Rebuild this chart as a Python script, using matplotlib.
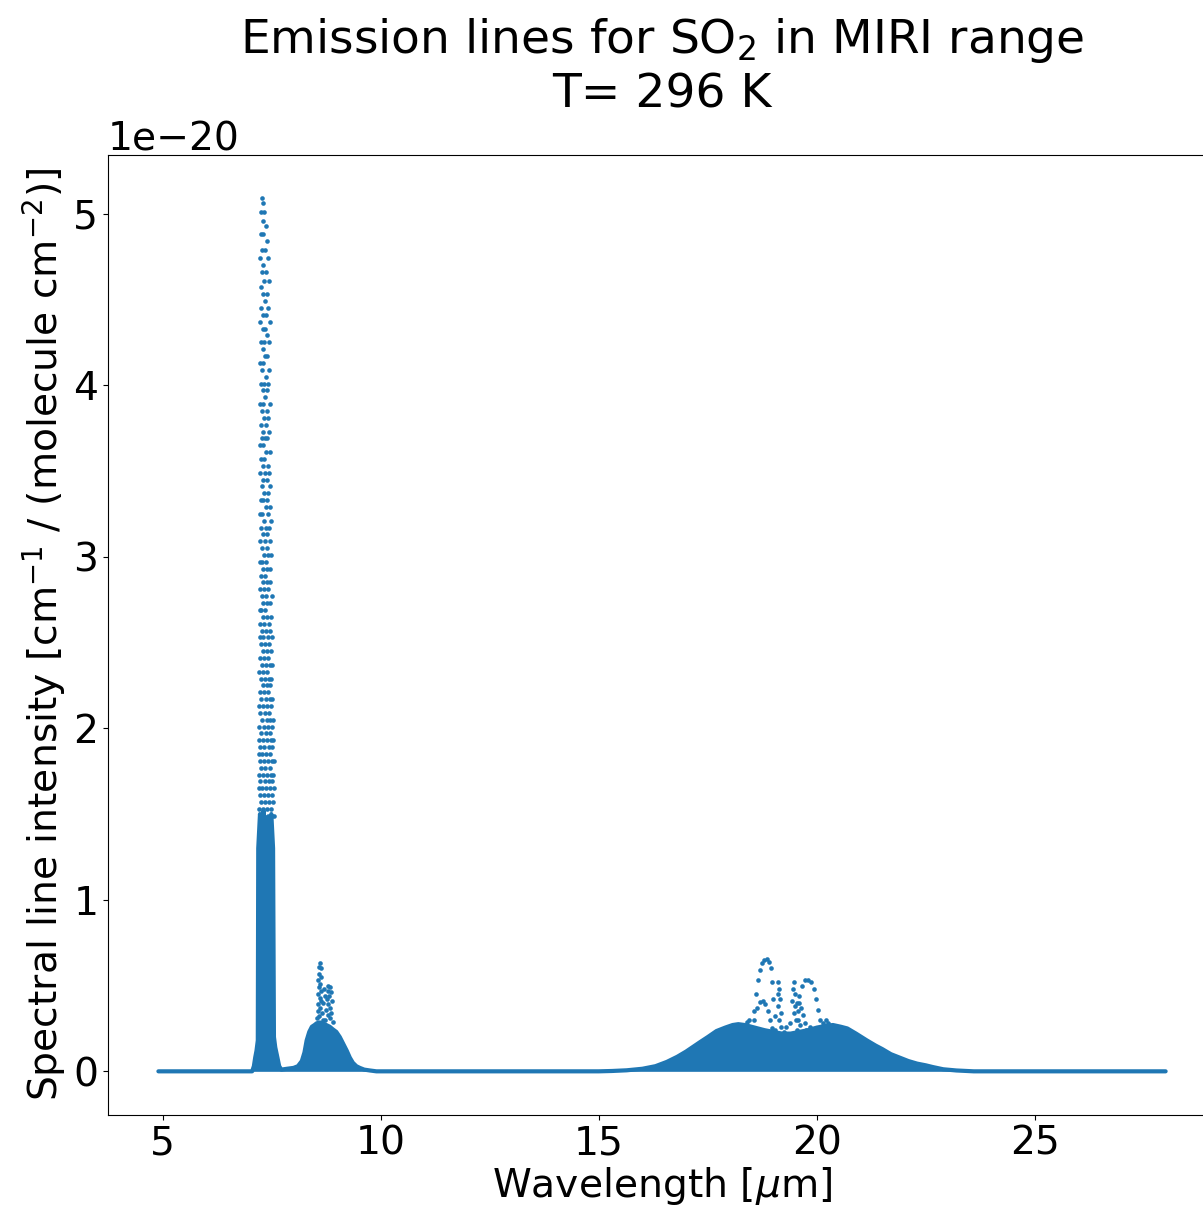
import matplotlib
matplotlib.use("Agg")
import matplotlib.pyplot as plt
import numpy as np

# dense part of the line list: upper edge of the packed lines (1e-20 units)
env_wl = [4.9, 7.05, 7.09, 7.12, 7.15, 7.18, 7.19, 7.23, 7.27, 7.31, 7.35, 7.39, 7.44, 7.49,
          7.53, 7.55, 7.58, 7.63, 7.67, 7.72, 7.85, 8.0, 8.1, 8.19, 8.25, 8.30, 8.36, 8.42,
          8.48, 8.53, 8.60, 8.67, 8.75, 8.83, 8.90, 8.98, 9.06, 9.14, 9.22, 9.29, 9.36, 9.44,
          9.52, 9.62, 9.75, 9.9, 15.0, 15.3, 15.64, 16.0, 16.3, 16.56, 16.8, 17.0, 17.32, 17.5,
          17.7, 17.9, 18.07, 18.2, 18.35, 18.5, 18.65, 18.8, 19.0, 19.2, 19.4, 19.6, 19.8, 20.0,
          20.2, 20.37, 20.55, 20.7, 20.9, 21.15, 21.35, 21.5, 21.7, 21.9, 22.1, 22.3, 22.5,
          22.66, 22.9, 23.2, 23.6, 28.0]
env_int = [0, 0, 0.03, 0.08, 0.12, 0.18, 1.30, 1.50, 1.38, 1.52, 1.35, 1.48, 1.40, 1.50,
           1.30, 0.2, 0.14, 0.08, 0.03, 0.01, 0.015, 0.02, 0.03, 0.06, 0.11, 0.18, 0.23, 0.26,
           0.27, 0.28, 0.285, 0.28, 0.27, 0.26, 0.245, 0.23, 0.20, 0.16, 0.12, 0.08, 0.05, 0.03,
           0.02, 0.01, 0.005, 0, 0, 0.002, 0.006, 0.015, 0.03, 0.055, 0.085, 0.115, 0.17, 0.2,
           0.235, 0.255, 0.27, 0.275, 0.27, 0.26, 0.25, 0.24, 0.23, 0.22, 0.22, 0.23, 0.24, 0.255,
           0.265, 0.27, 0.26, 0.25, 0.22, 0.18, 0.15, 0.13, 0.10, 0.08, 0.06, 0.045, 0.035,
           0.025, 0.012, 0.005, 0, 0]

# strong lines of the 7.3 um band (nu3)
b73_wl = [7.27, 7.31, 7.26, 7.33, 7.29, 7.36, 7.25, 7.31, 7.38, 7.28, 7.34, 7.24, 7.41,
          7.30, 7.27, 7.37, 7.33, 7.43, 7.25, 7.30, 7.39, 7.35, 7.26, 7.42, 7.31, 7.37,
          7.23, 7.45, 7.29, 7.34, 7.38, 7.26, 7.32, 7.43, 7.29, 7.35, 7.40, 7.24, 7.31,
          7.28, 7.44, 7.36, 7.25, 7.32, 7.41, 7.29, 7.38, 7.34, 7.23, 7.30, 7.45, 7.27,
          7.39, 7.33, 7.42, 7.25, 7.36, 7.30, 7.44, 7.27, 7.34, 7.40, 7.23, 7.31, 7.37,
          7.46, 7.26, 7.33, 7.29, 7.41, 7.24, 7.35, 7.44, 7.31, 7.38, 7.27, 7.47, 7.33,
          7.42, 7.25, 7.30, 7.39, 7.36, 7.45, 7.23, 7.28, 7.41, 7.32, 7.48, 7.26, 7.37,
          7.43, 7.30, 7.40, 7.24, 7.34, 7.46, 7.28, 7.38, 7.32, 7.42, 7.49, 7.22, 7.27,
          7.36, 7.31, 7.40, 7.45, 7.25, 7.34, 7.29, 7.38, 7.47, 7.23, 7.33, 7.42, 7.27,
          7.36, 7.50, 7.31, 7.40, 7.45, 7.22, 7.26, 7.35, 7.29, 7.39, 7.48, 7.24, 7.33,
          7.43, 7.28, 7.37, 7.46, 7.22, 7.31, 7.41, 7.50, 7.26, 7.35, 7.44, 7.30, 7.39,
          7.48, 7.23, 7.33, 7.42, 7.27, 7.37, 7.46, 7.51, 7.21, 7.31, 7.40, 7.25, 7.34,
          7.44, 7.49, 7.29, 7.38, 7.47, 7.22, 7.32, 7.42, 7.26, 7.36, 7.45, 7.51, 7.21,
          7.30, 7.40, 7.48, 7.24, 7.34, 7.43, 7.28, 7.38, 7.47, 7.52, 7.21, 7.32, 7.41,
          7.50, 7.25, 7.36, 7.45,
          7.21, 7.29, 7.39, 7.48, 7.53, 7.24, 7.33, 7.43, 7.51, 7.20, 7.28, 7.37, 7.46,
          7.23, 7.32, 7.41, 7.50, 7.54, 7.26, 7.35, 7.45, 7.21, 7.30, 7.39, 7.48, 7.53,
          7.24, 7.34, 7.43, 7.51, 7.20, 7.28, 7.37, 7.46, 7.55, 7.23, 7.32, 7.41, 7.50,
          7.26, 7.35, 7.44, 7.53, 7.20, 7.30, 7.39, 7.48, 7.23, 7.33, 7.42, 7.51, 7.55]
b73_int = [5.09, 5.06, 5.01, 5.01, 4.96, 4.93, 4.88, 4.88, 4.84, 4.79, 4.79, 4.74, 4.74,
           4.70, 4.66, 4.66, 4.61, 4.61, 4.57, 4.53, 4.53, 4.49, 4.45, 4.45, 4.41, 4.41,
           4.37, 4.37, 4.33, 4.33, 4.29, 4.25, 4.25, 4.25, 4.21, 4.17, 4.17, 4.13, 4.13,
           4.09, 4.09, 4.05, 4.01, 4.01, 4.01, 3.97, 3.97, 3.93, 3.89, 3.89, 3.89, 3.85,
           3.85, 3.81, 3.81, 3.77, 3.77, 3.73, 3.73, 3.69, 3.69, 3.69, 3.65, 3.65, 3.61,
           3.61, 3.57, 3.57, 3.53, 3.53, 3.49, 3.49, 3.49, 3.45, 3.45, 3.41, 3.41, 3.37,
           3.37, 3.33, 3.33, 3.33, 3.29, 3.29, 3.25, 3.25, 3.25, 3.21, 3.21, 3.17, 3.17,
           3.17, 3.13, 3.13, 3.09, 3.09, 3.09, 3.05, 3.05, 3.01, 3.01, 3.01, 2.97, 2.97,
           2.97, 2.93, 2.93, 2.93, 2.89, 2.89, 2.85, 2.85, 2.85, 2.81, 2.81, 2.81, 2.77,
           2.77, 2.77, 2.73, 2.73, 2.73, 2.69, 2.69, 2.69, 2.65, 2.65, 2.65, 2.61, 2.61,
           2.61, 2.57, 2.57, 2.57, 2.53, 2.53, 2.53, 2.53, 2.49, 2.49, 2.49, 2.45, 2.45,
           2.45, 2.41, 2.41, 2.41, 2.37, 2.37, 2.37, 2.37, 2.33, 2.33, 2.33, 2.29, 2.29,
           2.29, 2.29, 2.25, 2.25, 2.25, 2.21, 2.21, 2.21, 2.17, 2.17, 2.17, 2.17, 2.13,
           2.13, 2.13, 2.13, 2.09, 2.09, 2.09, 2.05, 2.05, 2.05, 2.05, 2.01, 2.01, 2.01,
           2.01, 1.97, 1.97, 1.97,
           1.93, 1.93, 1.93, 1.93, 1.93, 1.89, 1.89, 1.89, 1.89, 1.85, 1.85, 1.85, 1.85,
           1.81, 1.81, 1.81, 1.81, 1.81, 1.77, 1.77, 1.77, 1.73, 1.73, 1.73, 1.73, 1.73,
           1.69, 1.69, 1.69, 1.69, 1.65, 1.65, 1.65, 1.65, 1.65, 1.61, 1.61, 1.61, 1.61,
           1.57, 1.57, 1.57, 1.57, 1.53, 1.53, 1.53, 1.53, 1.49, 1.49, 1.49, 1.49, 1.49]

# strong lines of the 8.6 um band (nu1)
b86_wl = [8.60, 8.58, 8.62, 8.59, 8.63, 8.57, 8.61, 8.58, 8.64, 8.56, 8.60, 8.63, 8.57,
          8.61, 8.55, 8.65, 8.59, 8.53, 8.67, 8.80, 8.84, 8.78, 8.86, 8.82, 8.76, 8.88,
          8.80, 8.84, 8.74, 8.87, 8.79, 8.83, 8.71, 8.90, 8.70, 8.72, 8.68]
b86_int = [0.63, 0.61, 0.60, 0.57, 0.55, 0.53, 0.51, 0.49, 0.47, 0.45, 0.43, 0.41, 0.39,
           0.37, 0.35, 0.34, 0.32, 0.31, 0.30, 0.50, 0.49, 0.47, 0.46, 0.44, 0.42, 0.41,
           0.39, 0.37, 0.36, 0.34, 0.33, 0.31, 0.30, 0.29, 0.48, 0.44, 0.40]

# strong lines of the 19 um band (nu2)
b19_wl = [18.50, 18.55, 18.60, 18.65, 18.70, 18.75, 18.80, 18.86, 18.90, 18.94, 18.97,
          19.00, 19.03, 18.55, 18.62, 18.70, 18.76, 18.82, 18.88, 18.93, 19.60, 19.66,
          19.72, 19.80, 19.87, 19.93, 19.98, 20.03, 20.08, 19.11, 19.13, 19.10, 19.15,
          19.12, 19.17, 19.14, 19.19, 19.47, 19.45, 19.49, 19.44, 19.50, 19.47, 19.52,
          19.60, 19.64, 19.56, 19.68, 19.58, 19.72, 18.98, 19.05, 19.25, 19.30, 19.35,
          19.38, 19.55, 19.62, 19.75, 19.85, 20.15, 18.40, 18.45, 20.20, 20.25, 19.55]
b19_int = [0.25, 0.35, 0.45, 0.53, 0.59, 0.63, 0.65, 0.655, 0.64, 0.60, 0.52,
           0.42, 0.32, 0.30, 0.37, 0.405, 0.41, 0.39, 0.35, 0.30, 0.44, 0.50,
           0.53, 0.535, 0.52, 0.48, 0.42, 0.36, 0.30, 0.52, 0.48, 0.45, 0.42,
           0.38, 0.34, 0.30, 0.26, 0.52, 0.48, 0.45, 0.41, 0.38, 0.34, 0.30,
           0.40, 0.37, 0.35, 0.33, 0.30, 0.28, 0.25, 0.24, 0.23, 0.26, 0.22,
           0.28, 0.24, 0.27, 0.24, 0.26, 0.28, 0.29, 0.30, 0.30, 0.28, 0.40]

scale = 1e-20
color = '#1f77b4'

plt.rcParams['font.size'] = 28.3
fig = plt.figure(figsize=(12.03, 12.08), dpi=100)
ax = fig.add_axes([0.0898, 0.077, 0.921, 0.795])

env_y = np.array(env_int) * scale
ax.fill_between(env_wl, 0, env_y, color=color, lw=0)
ax.plot(env_wl, env_y, color=color, lw=3, solid_capstyle='round', solid_joinstyle='round')

all_wl = b73_wl + b86_wl + b19_wl
all_int = np.array(b73_int + b86_int + b19_int) * scale
ax.scatter(all_wl, all_int, s=11, color=color, linewidths=0)

ax.set_title('Emission lines for SO$_2$ in MIRI range\nT= 296 K', pad=34)
ax.set_xlabel(r'Wavelength [$\mu$m]', labelpad=2)
ax.set_ylabel('Spectral line intensity [cm$^{-1}$ / (molecule cm$^{-2}$)]')
ax.set_xticks([5, 10, 15, 20, 25])

fig.savefig('out.png', dpi=100)
